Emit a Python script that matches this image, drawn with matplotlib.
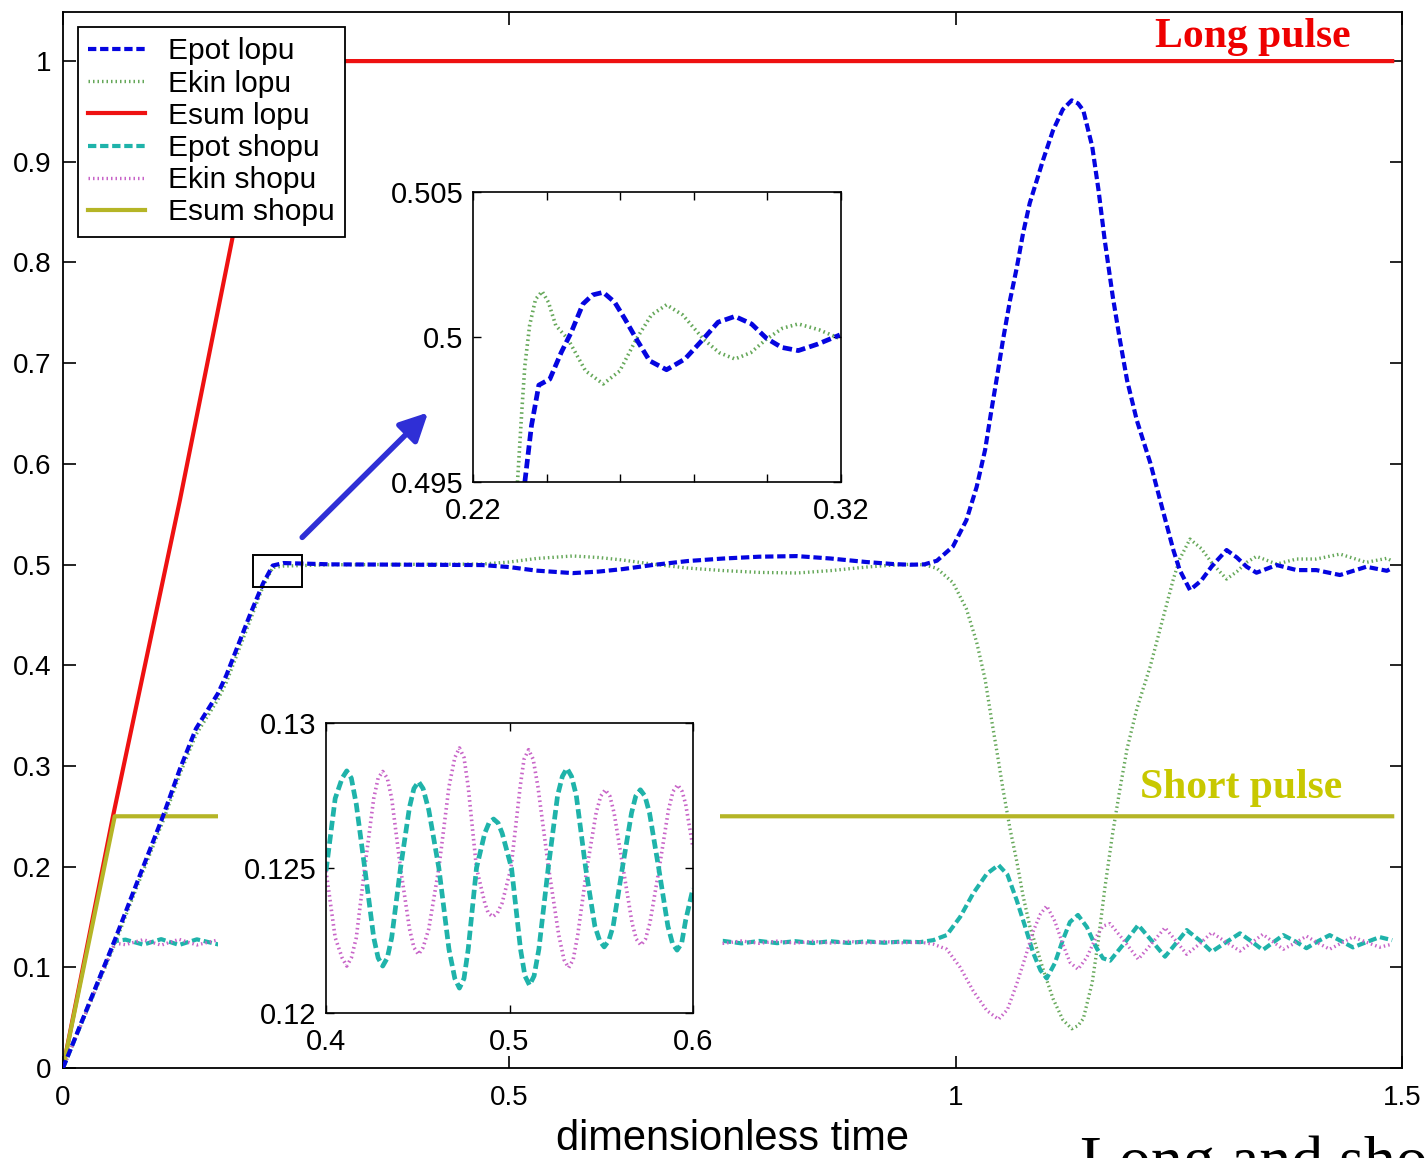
import matplotlib
matplotlib.use("Agg")
import matplotlib.pyplot as plt
from matplotlib.patches import Rectangle

# fonts and tick style
plt.rcParams.update({'font.family': ['Liberation Sans', 'DejaVu Sans']})
plt.rcParams.update({'font.size': 20})
plt.rcParams.update({'xtick.direction': 'in', 'ytick.direction': 'in',
                     'xtick.top': True, 'ytick.right': True})

# ======================================================
# DATA
# ======================================================

# long pulse (lopu)
t_lopu = [0, 0.058, 0.082, 0.112, 0.131, 0.149, 0.1736, 0.183, 0.209, 0.224,
          0.235, 0.247, 0.30, 0.40, 0.47, 0.50, 0.53, 0.571, 0.60, 0.627,
          0.66, 0.70, 0.74, 0.78, 0.822, 0.86, 0.90, 0.93, 0.949, 0.965,
          0.979, 0.997, 1.012, 1.0235, 1.033, 1.040, 1.047, 1.053, 1.061,
          1.0685, 1.0755, 1.083, 1.098, 1.109, 1.12, 1.130, 1.137, 1.143,
          1.153, 1.160, 1.167, 1.176, 1.184, 1.192, 1.203, 1.218, 1.232,
          1.244, 1.251, 1.2625, 1.275, 1.288, 1.3035, 1.315, 1.326, 1.337,
          1.3596, 1.382, 1.404, 1.4305, 1.460, 1.483, 1.489]
epot_lopu = [0, 0.127, 0.182, 0.25, 0.297, 0.337, 0.372, 0.390, 0.449, 0.481,
             0.499, 0.5015, 0.5002, 0.4998, 0.4995, 0.4975, 0.494, 0.4915,
             0.4930, 0.4955, 0.4995, 0.5035, 0.5060, 0.5078, 0.5084, 0.5060,
             0.5025, 0.5005, 0.4998, 0.5002, 0.5038, 0.518, 0.544, 0.577,
             0.614, 0.653, 0.690, 0.723, 0.763, 0.795, 0.829, 0.859, 0.902,
             0.931, 0.952, 0.961, 0.958, 0.951, 0.915, 0.872, 0.822, 0.766,
             0.723, 0.683, 0.643, 0.601, 0.554, 0.514, 0.4945, 0.4747, 0.484,
             0.4995, 0.5144, 0.507, 0.4978, 0.4919, 0.4995, 0.4945, 0.4945,
             0.4896, 0.4978, 0.4938, 0.4965]
ekin_lopu = [0, 0.123, 0.178, 0.245, 0.292, 0.331, 0.366, 0.383, 0.443, 0.478,
             0.497, 0.4985, 0.4998, 0.5002, 0.5005, 0.5025, 0.506, 0.5085,
             0.507, 0.5045, 0.5005, 0.4965, 0.494, 0.4922, 0.4916, 0.494,
             0.4975, 0.4995, 0.5002, 0.4998, 0.4962, 0.482, 0.456, 0.423,
             0.386, 0.347, 0.310, 0.277, 0.237, 0.205, 0.171, 0.141, 0.098,
             0.069, 0.048, 0.039, 0.042, 0.049, 0.085, 0.128, 0.178, 0.234,
             0.277, 0.317, 0.357, 0.399, 0.446, 0.486, 0.5055, 0.5253, 0.516,
             0.5005, 0.4856, 0.493, 0.5022, 0.5081, 0.5005, 0.5055, 0.5055,
             0.5104, 0.5022, 0.5062, 0.5035]
t_esum_lopu = [0, 0.056, 0.131, 0.190, 0.232, 1.489]
esum_lopu = [0, 0.25, 0.564, 0.825, 1.0, 1.0]

# short pulse (shopu)
t_shopu = [0, 0.058, 0.070, 0.090, 0.110, 0.130, 0.150, 0.1736,
           0.74, 0.76, 0.78, 0.80, 0.82, 0.84, 0.86, 0.88, 0.90, 0.92, 0.94,
           0.96, 0.975, 0.990, 1.005, 1.0197, 1.035, 1.048, 1.058, 1.0683,
           1.078, 1.087, 1.095, 1.102, 1.111, 1.120, 1.128, 1.137, 1.147,
           1.157, 1.165, 1.173, 1.189, 1.2045, 1.219, 1.2345, 1.247, 1.2588,
           1.273, 1.2868, 1.303, 1.3185, 1.331, 1.344, 1.356, 1.367, 1.380,
           1.393, 1.406, 1.419, 1.432, 1.445, 1.460, 1.475, 1.489]
epot_shopu = [0, 0.126, 0.1275, 0.1225, 0.1280, 0.1222, 0.1278, 0.1228,
              0.1262, 0.1238, 0.1262, 0.1240, 0.1260, 0.1241, 0.1259, 0.1242,
              0.1258, 0.1244, 0.1256, 0.1250, 0.1270, 0.1320, 0.150, 0.1735,
              0.193, 0.2016, 0.192, 0.1668, 0.140, 0.114, 0.097, 0.089, 0.104,
              0.127, 0.145, 0.152, 0.140, 0.1205, 0.109, 0.1066, 0.124, 0.142,
              0.127, 0.1106, 0.124, 0.137, 0.127, 0.1155, 0.125, 0.1338, 0.126,
              0.1172, 0.125, 0.132, 0.126, 0.119, 0.126, 0.132, 0.126, 0.1198,
              0.125, 0.130, 0.127]
ekin_shopu = [0, 0.124, 0.1225, 0.1275, 0.1220, 0.1278, 0.1222, 0.1272,
              0.1238, 0.1262, 0.1238, 0.1260, 0.1240, 0.1259, 0.1241, 0.1258,
              0.1242, 0.1256, 0.1244, 0.1250, 0.1230, 0.1180, 0.100, 0.0765,
              0.057, 0.0484, 0.058, 0.0832, 0.110, 0.136, 0.153, 0.161, 0.146,
              0.123, 0.105, 0.098, 0.110, 0.1295, 0.141, 0.1434, 0.126, 0.108,
              0.123, 0.1394, 0.126, 0.113, 0.123, 0.1345, 0.125, 0.1162, 0.124,
              0.1328, 0.125, 0.118, 0.124, 0.131, 0.124, 0.118, 0.124, 0.1302,
              0.125, 0.120, 0.123]
t_esum_shopu = [0, 0.058, 1.489]
esum_shopu = [0, 0.25, 0.25]

# zoom on the end of the long-pulse ramp
t_zoom_epot = [0.2341, 0.2359, 0.2379, 0.2409, 0.2440, 0.2467, 0.2499, 0.2525,
               0.2554, 0.2585, 0.2613, 0.2644, 0.2680, 0.2726, 0.2776, 0.2826,
               0.2866, 0.2912, 0.2957, 0.2998, 0.3039, 0.3084, 0.3138, 0.3197]
zoom_epot = [0.4950, 0.49694, 0.49834, 0.49855, 0.49947, 0.50016, 0.50114,
             0.50145, 0.50154, 0.50120, 0.50062, 0.49993, 0.49918, 0.49887,
             0.49924, 0.49993, 0.50051, 0.50071, 0.50045, 0.49995, 0.49964,
             0.49953, 0.49976, 0.50007]
t_zoom_ekin = [0.2321, 0.2333, 0.2341, 0.2354, 0.2370, 0.2388, 0.2405, 0.2425,
               0.2458, 0.2506, 0.2554, 0.2599, 0.2644, 0.2685, 0.2726, 0.2770,
               0.2826, 0.2869, 0.2912, 0.2955, 0.2998, 0.3041, 0.3084, 0.3140,
               0.3200]
zoom_ekin = [0.4950, 0.4975, 0.4990, 0.5004, 0.5013, 0.50157, 0.5012, 0.5004,
             0.49993, 0.49883, 0.49838, 0.49883, 0.49993, 0.50076, 0.50111,
             0.50076, 0.49993, 0.49946, 0.49924, 0.49946, 0.49993, 0.50030,
             0.50045, 0.50025, 0.49993]

# zoom on the short-pulse plateau
t_sh_epot = [0.4000, 0.4050, 0.4088, 0.4113, 0.4138, 0.4165, 0.4211, 0.4260,
             0.4284, 0.4309, 0.4334, 0.4358, 0.4406, 0.4455, 0.4479, 0.4504,
             0.4529, 0.4560, 0.4615, 0.4670, 0.4702, 0.4727, 0.4752, 0.4775,
             0.4820, 0.4865, 0.4888, 0.4913, 0.4938, 0.4960, 0.5011, 0.5060,
             0.5084, 0.5109, 0.5134, 0.5160, 0.5211, 0.5262, 0.5288, 0.5313,
             0.5338, 0.5364, 0.5415, 0.5465, 0.5491, 0.5516, 0.5541, 0.5565,
             0.5615, 0.5665, 0.5688, 0.5713, 0.5738, 0.5763, 0.5813, 0.5863,
             0.5888, 0.5913, 0.5938, 0.5960, 0.6000]
sh_epot = [0.1249, 0.1274, 0.1281, 0.12835, 0.1281, 0.1272, 0.1250, 0.1226,
           0.1219, 0.12162, 0.1219, 0.1226, 0.1250, 0.1271, 0.12774, 0.12798,
           0.12774, 0.1270, 0.1250, 0.1222, 0.12119, 0.12086, 0.12119, 0.1222,
           0.1250, 0.1262, 0.12655, 0.12669, 0.12655, 0.1262, 0.1250, 0.1222,
           0.12128, 0.12096, 0.12128, 0.1222, 0.1250, 0.1275, 0.12816, 0.12844,
           0.12816, 0.1275, 0.1250, 0.1230, 0.1225, 0.12228, 0.1225, 0.1230,
           0.1250, 0.1269, 0.12748, 0.12770, 0.12748, 0.1269, 0.1250, 0.1230,
           0.1224, 0.12217, 0.1224, 0.1232, 0.1243]
t_sh_ekin = [0.4000, 0.4050, 0.4088, 0.4113, 0.4138, 0.4165, 0.4211, 0.4260,
             0.4284, 0.4309, 0.4334, 0.4358, 0.4406, 0.4455, 0.4479, 0.4504,
             0.4529, 0.4560, 0.4615, 0.4670, 0.4702, 0.4727, 0.4752, 0.4775,
             0.4820, 0.4865, 0.4884, 0.4909, 0.4934, 0.4960, 0.5008, 0.5058,
             0.5079, 0.5104, 0.5129, 0.5155, 0.5213, 0.5268, 0.5297, 0.5322,
             0.5347, 0.5372, 0.5422, 0.5472, 0.5497, 0.5522, 0.5547, 0.5570,
             0.5619, 0.5668, 0.5691, 0.5716, 0.5741, 0.5765, 0.5816, 0.5866,
             0.5891, 0.5916, 0.5941, 0.5960, 0.6000]
sh_ekin = [0.1249, 0.1226, 0.1219, 0.12162, 0.1219, 0.1226, 0.1250, 0.1274,
           0.1281, 0.12833, 0.1281, 0.1274, 0.1250, 0.1229, 0.12226, 0.12202,
           0.12226, 0.1229, 0.1250, 0.1278, 0.12881, 0.12914, 0.12881, 0.1278,
           0.1250, 0.1238, 0.12345, 0.12332, 0.12345, 0.1238, 0.1250, 0.1278,
           0.12875, 0.12908, 0.12875, 0.1278, 0.1250, 0.1227, 0.12184, 0.12156,
           0.12184, 0.1227, 0.1250, 0.1269, 0.12748, 0.12770, 0.12748, 0.1269,
           0.1250, 0.1231, 0.12255, 0.12234, 0.12255, 0.1231, 0.1250, 0.1270,
           0.12764, 0.12787, 0.12764, 0.1272, 0.1257]

# line styles
C_BLUE, C_GREEN, C_RED = '#0505e0', '#66a85a', '#ee1111'
C_TEAL, C_MAG, C_OLIVE = '#1fb3aa', '#c865c8', '#b5b526'
DASH = (0, (2.0, 0.9))
DOT = (0, (0.45, 0.9))

# ======================================================
# MAIN AXES
# ======================================================

fig = plt.figure(figsize=(14.28, 11.58), dpi=100)
ax = fig.add_axes([0.0441, 0.0777, 0.9377, 0.9119])

ax.plot(t_lopu, epot_lopu, color=C_BLUE, lw=3.0, ls=DASH, label='Epot lopu', zorder=3)
ax.plot(t_lopu, ekin_lopu, color=C_GREEN, lw=2.4, ls=DOT, label='Ekin lopu', zorder=2)
ax.plot(t_esum_lopu, esum_lopu, color=C_RED, lw=3.0, label='Esum lopu')
ax.plot(t_shopu, epot_shopu, color=C_TEAL, lw=3.0, ls=DASH, label='Epot shopu')
ax.plot(t_shopu, ekin_shopu, color=C_MAG, lw=2.4, ls=DOT, label='Ekin shopu')
ax.plot(t_esum_shopu, esum_shopu, color=C_OLIVE, lw=3.0, label='Esum shopu')

ax.set_xlim(0, 1.5)
ax.set_ylim(0, 1.0487)
ax.set_xticks([0, 0.5, 1, 1.5])
ax.set_xticklabels(['0', '0.5', '1', '1.5'])
ax.set_yticks([i / 10 for i in range(11)])
ax.set_yticklabels(['0', '0.1', '0.2', '0.3', '0.4', '0.5', '0.6', '0.7',
                    '0.8', '0.9', '1'])
ax.tick_params(length=9, width=1.2, pad=8, labelsize=20)
ax.tick_params(axis='x', pad=12)
for s in ax.spines.values():
    s.set_linewidth(1.3)
ax.set_xlabel('dimensionless time', fontsize=30, labelpad=6)

leg = ax.legend(loc='upper left', bbox_to_anchor=(0.0112, 0.9858),
                borderaxespad=0, fontsize=21.5, handlelength=1.9,
                handletextpad=0.75, labelspacing=0.14, borderpad=0.35,
                fancybox=False, framealpha=1, edgecolor='black')
leg.get_frame().set_linewidth(1.3)

# blank area behind the lower inset
ax.add_patch(Rectangle((0.1736, 0.04), 0.736 - 0.1736, 0.27,
                       facecolor='white', edgecolor='none', zorder=4))

# marker box and arrow pointing to the upper inset
ax.add_patch(Rectangle((0.2128, 0.4777), 0.0549, 0.0317, fill=False,
                       edgecolor='black', lw=1.4, zorder=6))
ax.annotate('', xy=(0.409, 0.651), xytext=(0.268, 0.527),
            arrowprops=dict(arrowstyle='-|>', color='#2f2fd6', lw=4,
                            mutation_scale=42, shrinkA=0, shrinkB=0))

ax.text(1.333, 1.014, 'Long pulse', color='#ee0000', fontsize=30,
        fontweight='bold', family='Liberation Serif', ha='center', va='baseline')
ax.text(1.320, 0.268, 'Short pulse', color='#c8c800', fontsize=30,
        fontweight='bold', family='Liberation Serif', ha='center', va='baseline')

# caption running off the bottom edge
fig.text(0.756, -0.019, 'Long and short pulse', fontsize=46,
         family='Liberation Serif', ha='left', va='baseline')

# ======================================================
# INSETS
# ======================================================

ax_up = fig.add_axes([0.3312, 0.5838, 0.2577, 0.2504])
ax_up.plot(t_zoom_ekin, zoom_ekin, color=C_GREEN, lw=2.6, ls=DOT)
ax_up.plot(t_zoom_epot, zoom_epot, color=C_BLUE, lw=3.4, ls=DASH)
ax_up.set_xlim(0.22, 0.32)
ax_up.set_ylim(0.495, 0.505)
ax_up.set_xticks([0.22, 0.24, 0.26, 0.28, 0.30, 0.32])
ax_up.set_xticklabels(['0.22', '', '', '', '', '0.32'])
ax_up.set_yticks([0.495, 0.5, 0.505])
ax_up.set_yticklabels(['0.495', '0.5', '0.505'])

ax_lo = fig.add_axes([0.2283, 0.1252, 0.2570, 0.2504])
ax_lo.plot(t_sh_ekin, sh_ekin, color=C_MAG, lw=2.6, ls=DOT)
ax_lo.plot(t_sh_epot, sh_epot, color=C_TEAL, lw=3.4, ls=DASH)
ax_lo.set_xlim(0.4, 0.6)
ax_lo.set_ylim(0.12, 0.13)
ax_lo.set_xticks([0.4, 0.5, 0.6])
ax_lo.set_xticklabels(['0.4', '0.5', '0.6'])
ax_lo.set_yticks([0.12, 0.125, 0.13])
ax_lo.set_yticklabels(['0.12', '0.125', '0.13'])

for a in (ax_up, ax_lo):
    a.tick_params(length=6, width=1.0, pad=7, labelsize=21)
    a.tick_params(axis='x', pad=11)
    for s in a.spines.values():
        s.set_linewidth(1.2)

fig.savefig('out.png', dpi=100)
